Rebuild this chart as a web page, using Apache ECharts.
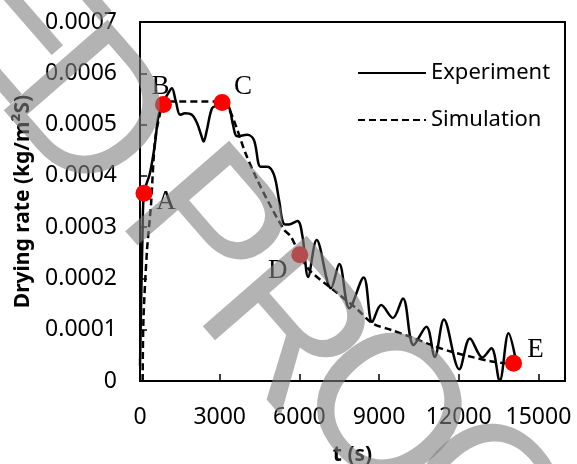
<!DOCTYPE html>
<html>
<head>
<meta charset="utf-8">
<style>
    html, body { margin: 0; padding: 0; background: #fff; }
    #drying-chart { width: 577px; height: 464px; }
</style>
<script src="https://cdn.jsdelivr.net/npm/echarts@6/dist/echarts.min.js"></script>
</head>
<body>
<div id="drying-chart"></div>
<script>
    // experiment curve (t in s, drying rate in kg/m2s)
    var expT = [0, 100, 151, 378, 568, 692, 880, 1050, 1200, 1350, 1513, 1700, 1950, 2145, 2300, 2396, 2520, 2712, 2900, 3100,
        3342, 3500, 3657, 4036, 4288, 4540, 4793, 5045, 5234, 5423, 5600, 5928, 6117, 6330, 6650, 7189, 7503, 7881, 8420,
        8740, 9080, 9520, 9900, 10300, 10783, 11097, 11440, 12020, 12421, 12890, 13230, 13540, 13874, 14125];
    var expRate = [0.00003, 0.00030, 0.000366, 0.000406, 0.000464, 0.000516, 0.000545, 0.000560, 0.000571, 0.000545, 0.000519,
        0.000522, 0.000519, 0.000503, 0.000480, 0.000467, 0.000490, 0.000532, 0.000537, 0.000540,
        0.000535, 0.000500, 0.000477, 0.000480, 0.000470, 0.000418, 0.000418, 0.000402, 0.000353, 0.000306, 0.000305, 0.000312,
        0.000282, 0.000203, 0.000275, 0.000181, 0.000228, 0.000142, 0.000202, 0.000115, 0.000148, 0.000123, 0.000161, 0.000070,
        0.000106, 0.000047, 0.000120, 0.000023, 0.000083, 0.000046, 0.000064, 0.000000, 0.000093, 0.000047];

    // simulation curve
    var simT = [100, 130, 265, 409, 568, 757, 900, 3100, 3300, 3530, 3973, 4415, 4793, 5423, 5675, 6016, 6400, 7442, 8198,
        8766, 9459, 10215, 10972, 11729, 12486, 13243, 14000];
    var simRate = [0, 0.00012, 0.000256, 0.00034, 0.00047, 0.000522, 0.000545, 0.000545, 0.000535, 0.000509, 0.000444, 0.000392,
        0.000353, 0.000295, 0.000282, 0.000246, 0.000215, 0.000171, 0.000139, 0.000112, 0.0000995, 0.0000853, 0.00007,
        0.000057, 0.000047, 0.000038, 0.000033];

    // points A-E
    var pointNames = ['A', 'B', 'C', 'D', 'E'];
    var pointT = [151, 882, 3091, 6016, 14062];
    var pointRate = [0.000366, 0.000539, 0.000543, 0.000246, 0.0000345];

    var xTicks = [0, 3000, 6000, 9000, 12000, 15000];

    // label offsets of the points (style only)
    var labelOffset = { A: [22, 9], B: [-3, -18], C: [21, -16], D: [-22, 16], E: [22, -13] };

    function pairs(xs, ys) {
        var out = [];
        for (var i = 0; i < xs.length; i++) out.push([xs[i], ys[i]]);
        return out;
    }

    var pointData = pointNames.map(function (n, i) {
        return {
            name: n,
            value: [pointT[i], pointRate[i]],
            label: { offset: labelOffset[n] }
        };
    });

    // watermark letters ("...ED PROO"), drawn on top
    var wmLetters = ['E', 'D', 'P', 'R', 'O', 'O'];
    var wmPos = [[14, 24], [82, 116], [200, 233], [281, 332], [379, 414], [478, 505]];
    var watermark = wmLetters.map(function (ch, i) {
        return {
            type: 'text',
            x: wmPos[i][0],
            y: wmPos[i][1],
            rotation: -49 * Math.PI / 180,
            z: 100,
            silent: true,
            style: {
                text: ch,
                fontSize: 200,
                fontFamily: '"Liberation Sans Narrow", "Liberation Sans", sans-serif',
                fill: 'rgba(128,128,128,0.6)',
                align: 'center',
                verticalAlign: 'middle',
                textAlign: 'center',
                textVerticalAlign: 'middle'
            }
        };
    });

    var myChart = echarts.init(document.getElementById('drying-chart'));
    myChart.setOption({
        animation: false,
        grid: {
            left: 140, right: 12, top: 22, bottom: 83,
            outerBoundsMode: 'none',
            containLabel: false,
            show: true,
            borderColor: '#000',
            borderWidth: 2
        },
        legend: {
            data: ['Experiment', 'Simulation'],
            orient: 'vertical',
            left: 357,
            top: 62,
            padding: 0,
            itemWidth: 68,
            itemHeight: 14,
            itemGap: 25,
            itemStyle: { opacity: 0 },
            textStyle: { fontSize: 22, fontFamily: 'Noto Sans', color: '#000' }
        },
        xAxis: {
            type: 'value',
            min: 0,
            max: 16000,
            interval: 3000,
            name: 't (s)',
            nameLocation: 'middle',
            nameGap: 64,
            nameTextStyle: { fontSize: 21, fontWeight: 'bold', fontFamily: 'Noto Sans', color: '#000' },
            splitLine: { show: false },
            axisLine: { lineStyle: { color: '#000', width: 2 } },
            axisTick: { inside: true, length: 7, lineStyle: { color: '#000', width: 1.5 } },
            axisLabel: {
                margin: 25,
                fontSize: 23,
                fontFamily: 'Noto Sans',
                color: '#000',
                formatter: function (v) { return xTicks.indexOf(v) >= 0 ? String(v) : ''; }
            }
        },
        yAxis: {
            type: 'value',
            min: 0,
            max: 0.0007,
            interval: 0.0001,
            name: 'Drying rate (kg/m²S)',
            nameLocation: 'middle',
            nameGap: 106,
            nameTextStyle: { fontSize: 21, fontWeight: 'bold', fontFamily: 'Noto Sans', color: '#000' },
            splitLine: { show: false },
            axisLine: { lineStyle: { color: '#000', width: 2 } },
            axisTick: { inside: true, length: 7, lineStyle: { color: '#000', width: 1.5 } },
            axisLabel: {
                margin: 23,
                fontSize: 23,
                fontFamily: 'Noto Sans',
                color: '#000',
                formatter: function (v) { return v === 0 ? '0' : v.toFixed(4); }
            }
        },
        series: [
            {
                name: 'Experiment',
                type: 'line',
                data: pairs(expT, expRate),
                smooth: 0.35,
                symbol: 'none',
                lineStyle: { color: '#000', width: 2.5, type: 'solid' },
                itemStyle: { color: '#000' },
                z: 2
            },
            {
                name: 'Simulation',
                type: 'line',
                data: pairs(simT, simRate),
                smooth: 0.3,
                symbol: 'none',
                lineStyle: { color: '#000', width: 2.5, type: [7, 4] },
                itemStyle: { color: '#000' },
                z: 2
            },
            {
                name: 'points',
                type: 'scatter',
                data: pointData,
                symbolSize: 17,
                itemStyle: { color: '#ff0000', opacity: 1 },
                label: {
                    show: true,
                    position: 'inside',
                    formatter: '{b}',
                    fontSize: 27,
                    fontFamily: '"Liberation Serif", "Times New Roman", serif',
                    color: '#000'
                },
                z: 3
            }
        ],
        graphic: watermark
    });
</script>
</body>
</html>
